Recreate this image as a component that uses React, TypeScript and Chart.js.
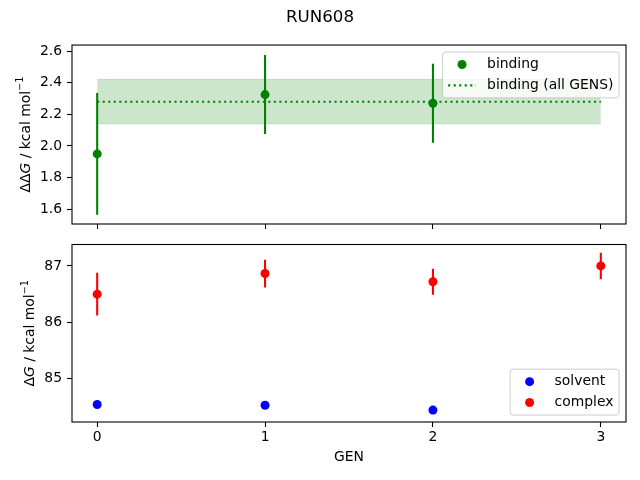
import { useEffect, useRef } from 'react';
import { Chart, registerables } from 'chart.js';

Chart.register(...registerables);

const GENS = [0, 1, 2, 3];

// top panel: binding free energy per GEN
const BINDING_GENS = [0, 1, 2];
const BINDING = [1.95, 2.325, 2.27];
const BINDING_ERR = [0.385, 0.25, 0.25];
const BINDING_ALL = 2.28;
const BINDING_ALL_ERR = 0.14;
const TOP_Y_TICKS = [1.6, 1.8, 2.0, 2.2, 2.4, 2.6];

// bottom panel: solvent / complex legs
const SOLVENT_GENS = [0, 1, 2];
const SOLVENT = [84.545, 84.53, 84.445];
const COMPLEX = [86.5, 86.865, 86.72, 87.0];
const COMPLEX_ERR = [0.38, 0.245, 0.23, 0.235];
const BOTTOM_Y_TICKS = [85, 86, 87];

const FS = 13.9;
const FONT = 'DejaVu Sans';
const GREEN = '#008000';
const RED = '#ff0000';
const BLUE = '#0000ff';
const LW = 2.08;
const MR = 4.5;

type Part = { t: string; italic?: boolean; sup?: boolean };
type LegendItem = { label: string; kind: 'dot' | 'dots'; color: string };

const errorSegments = (xs: number[], ys: number[], errs: number[]) =>
  xs.flatMap((x, i) => [
    { x, y: ys[i] - errs[i] },
    { x, y: ys[i] + errs[i] },
    { x, y: null as any },
  ]);

// frame, rotated y label and in-axes legend, drawn like matplotlib
const decorations = {
  id: 'decorations',
  afterDraw(chart: any, _args: any, opts: any) {
    const { ctx, chartArea: a } = chart;
    ctx.save();

    // axes box
    ctx.strokeStyle = '#000';
    ctx.lineWidth = 1.1;
    ctx.strokeRect(a.left, a.top, a.right - a.left, a.bottom - a.top);

    // y label
    const parts: Part[] = opts.ylabel || [];
    const fontOf = (p: Part) =>
      `${p.italic ? 'italic ' : ''}${p.sup ? FS * 0.7 : FS}px "${FONT}"`;
    let total = 0;
    parts.forEach((p) => {
      ctx.font = fontOf(p);
      total += ctx.measureText(p.t).width;
    });
    ctx.translate(a.left - opts.ylabelOffset, (a.top + a.bottom) / 2);
    ctx.rotate(-Math.PI / 2);
    ctx.fillStyle = '#000';
    ctx.textBaseline = 'middle';
    ctx.textAlign = 'left';
    let x = -total / 2;
    parts.forEach((p) => {
      ctx.font = fontOf(p);
      ctx.fillText(p.t, x, p.sup ? -FS * 0.38 : 0);
      x += ctx.measureText(p.t).width;
    });
    ctx.setTransform(1, 0, 0, 1, 0, 0);
    ctx.restore();

    // legend
    const items: LegendItem[] = opts.legend || [];
    if (!items.length) return;
    ctx.save();
    ctx.font = `${FS}px "${FONT}"`;
    const pad = 0.4 * FS;
    const handle = 2 * FS;
    const gap = 0.8 * FS;
    const spacing = 0.5 * FS;
    const axpad = 0.5 * FS;
    const tw = Math.max(...items.map((it) => ctx.measureText(it.label).width));
    const w = pad * 2 + handle + gap + tw;
    const h = pad * 2 + items.length * FS + (items.length - 1) * spacing;
    const bx = a.right - axpad - w;
    const by = opts.legendPos === 'se' ? a.bottom - axpad - h : a.top + axpad;
    ctx.beginPath();
    ctx.roundRect(bx, by, w, h, 0.2 * FS);
    ctx.fillStyle = 'rgba(255,255,255,0.8)';
    ctx.fill();
    ctx.strokeStyle = '#cccccc';
    ctx.lineWidth = 1;
    ctx.stroke();
    items.forEach((it, i) => {
      const cy = by + pad + FS / 2 + i * (FS + spacing);
      if (it.kind === 'dot') {
        ctx.beginPath();
        ctx.arc(bx + pad + handle / 2, cy, MR, 0, Math.PI * 2);
        ctx.fillStyle = it.color;
        ctx.fill();
      } else {
        ctx.beginPath();
        ctx.setLineDash([LW, 3.44]);
        ctx.lineCap = 'butt';
        ctx.moveTo(bx + pad, cy);
        ctx.lineTo(bx + pad + handle, cy);
        ctx.strokeStyle = it.color;
        ctx.lineWidth = LW;
        ctx.stroke();
        ctx.setLineDash([]);
      }
      ctx.fillStyle = '#000';
      ctx.textBaseline = 'middle';
      ctx.textAlign = 'left';
      ctx.fillText(it.label, bx + pad + handle + gap, cy);
    });
    ctx.restore();
  },
};

const xScale = (showLabels: boolean, height: number) => ({
  type: 'linear' as const,
  min: -0.15,
  max: 3.15,
  afterBuildTicks: (s: any) => {
    s.ticks = GENS.map((v) => ({ value: v }));
  },
  afterFit: (s: any) => {
    s.height = height;
    s.paddingLeft = 0;
    s.paddingRight = 0;
  },
  border: { display: false },
  grid: { drawOnChartArea: false, drawTicks: true, tickLength: 5, tickWidth: 1.1, tickColor: '#000' },
  ticks: {
    display: showLabels,
    padding: 2,
    color: '#000',
    font: { size: FS, family: FONT },
    callback: (v: any) => String(v),
  },
  title: {
    display: showLabels,
    text: 'GEN',
    color: '#000',
    font: { size: FS, family: FONT },
    padding: { top: 14, bottom: 14 },
  },
});

const yScale = (min: number, max: number, ticks: number[], digits: number) => ({
  type: 'linear' as const,
  min,
  max,
  afterBuildTicks: (s: any) => {
    s.ticks = ticks.map((v) => ({ value: v }));
  },
  afterFit: (s: any) => {
    s.width = 58;
    s.paddingTop = 0;
    s.paddingBottom = 0;
  },
  border: { display: false },
  grid: { drawOnChartArea: false, drawTicks: true, tickLength: 5, tickWidth: 1.1, tickColor: '#000' },
  ticks: {
    padding: 5,
    color: '#000',
    font: { size: FS, family: FONT },
    callback: (v: any) => Number(v).toFixed(digits),
  },
});

const pointSet = (xs: number[], ys: number[], color: string) => ({
  type: 'scatter' as const,
  data: xs.map((x, i) => ({ x, y: ys[i] })),
  pointRadius: MR,
  pointBorderWidth: 0,
  pointBackgroundColor: color,
  showLine: false,
});

const lineSet = (data: any[], color: string, extra: any = {}) => ({
  type: 'line' as const,
  data,
  borderColor: color,
  borderWidth: LW,
  pointRadius: 0,
  showLine: true,
  fill: false,
  tension: 0,
  spanGaps: false,
  ...extra,
});

export default function App() {
  const topRef = useRef<HTMLCanvasElement>(null);
  const bottomRef = useRef<HTMLCanvasElement>(null);

  useEffect(() => {
    if (!topRef.current || !bottomRef.current) return;
    Chart.defaults.font.family = FONT;
    const ends = [GENS[0], GENS[GENS.length - 1]];

    const top = new Chart(topRef.current, {
      type: 'scatter',
      data: {
        datasets: [
          pointSet(BINDING_GENS, BINDING, GREEN),
          lineSet(errorSegments(BINDING_GENS, BINDING, BINDING_ERR), GREEN),
          lineSet(
            ends.map((x) => ({ x, y: BINDING_ALL })),
            GREEN,
            { borderDash: [LW, 3.44], borderCapStyle: 'butt' }
          ),
          lineSet(
            ends.map((x) => ({ x, y: BINDING_ALL + BINDING_ALL_ERR })),
            'rgba(0,128,0,0.2)',
            { borderWidth: 1, fill: '+1', backgroundColor: 'rgba(0,128,0,0.2)' }
          ),
          lineSet(
            ends.map((x) => ({ x, y: BINDING_ALL - BINDING_ALL_ERR })),
            'rgba(0,128,0,0.2)',
            { borderWidth: 1 }
          ),
        ] as any,
      },
      options: {
        responsive: false,
        animation: false,
        events: [],
        devicePixelRatio: 1,
        layout: { padding: { left: 14, right: 14, top: 0, bottom: 0 } },
        scales: {
          x: xScale(false, 16),
          y: yScale(1.507, 2.638, TOP_Y_TICKS, 1),
        },
        plugins: {
          legend: { display: false },
          tooltip: { enabled: false },
          title: {
            display: true,
            text: 'RUN608',
            color: '#000',
            font: { size: 16.7, family: FONT, weight: 'normal' },
            padding: { top: 7.5, bottom: 17.5 },
          },
          decorations: {
            ylabel: [{ t: 'ΔΔ' }, { t: 'G', italic: true }, { t: ' / kcal mol' }, { t: '−1', sup: true }],
            ylabelOffset: 46,
            legendPos: 'ne',
            legend: [
              { label: 'binding', kind: 'dot', color: GREEN },
              { label: 'binding (all GENS)', kind: 'dots', color: GREEN },
            ],
          },
        } as any,
      },
      plugins: [decorations],
    });

    const bottom = new Chart(bottomRef.current, {
      type: 'scatter',
      data: {
        datasets: [
          pointSet(GENS, COMPLEX, RED),
          lineSet(errorSegments(GENS, COMPLEX, COMPLEX_ERR), RED),
          pointSet(SOLVENT_GENS, SOLVENT, BLUE),
        ] as any,
      },
      options: {
        responsive: false,
        animation: false,
        events: [],
        devicePixelRatio: 1,
        layout: { padding: { left: 14, right: 14, top: 4, bottom: 0 } },
        scales: {
          x: xScale(true, 58),
          y: yScale(84.234, 87.38, BOTTOM_Y_TICKS, 0),
        },
        plugins: {
          legend: { display: false },
          tooltip: { enabled: false },
          decorations: {
            ylabel: [{ t: 'Δ' }, { t: 'G', italic: true }, { t: ' / kcal mol' }, { t: '−1', sup: true }],
            ylabelOffset: 41.5,
            legendPos: 'se',
            legend: [
              { label: 'solvent', kind: 'dot', color: BLUE },
              { label: 'complex', kind: 'dot', color: RED },
            ],
          },
        } as any,
      },
      plugins: [decorations],
    });

    return () => {
      top.destroy();
      bottom.destroy();
    };
  }, []);

  return (
    <div style={{ position: 'absolute', left: 0, top: 0, width: 640, height: 480, background: '#fff' }}>
      <canvas ref={topRef} width={640} height={240} style={{ display: 'block' }} />
      <canvas ref={bottomRef} width={640} height={240} style={{ display: 'block' }} />
    </div>
  );
}
